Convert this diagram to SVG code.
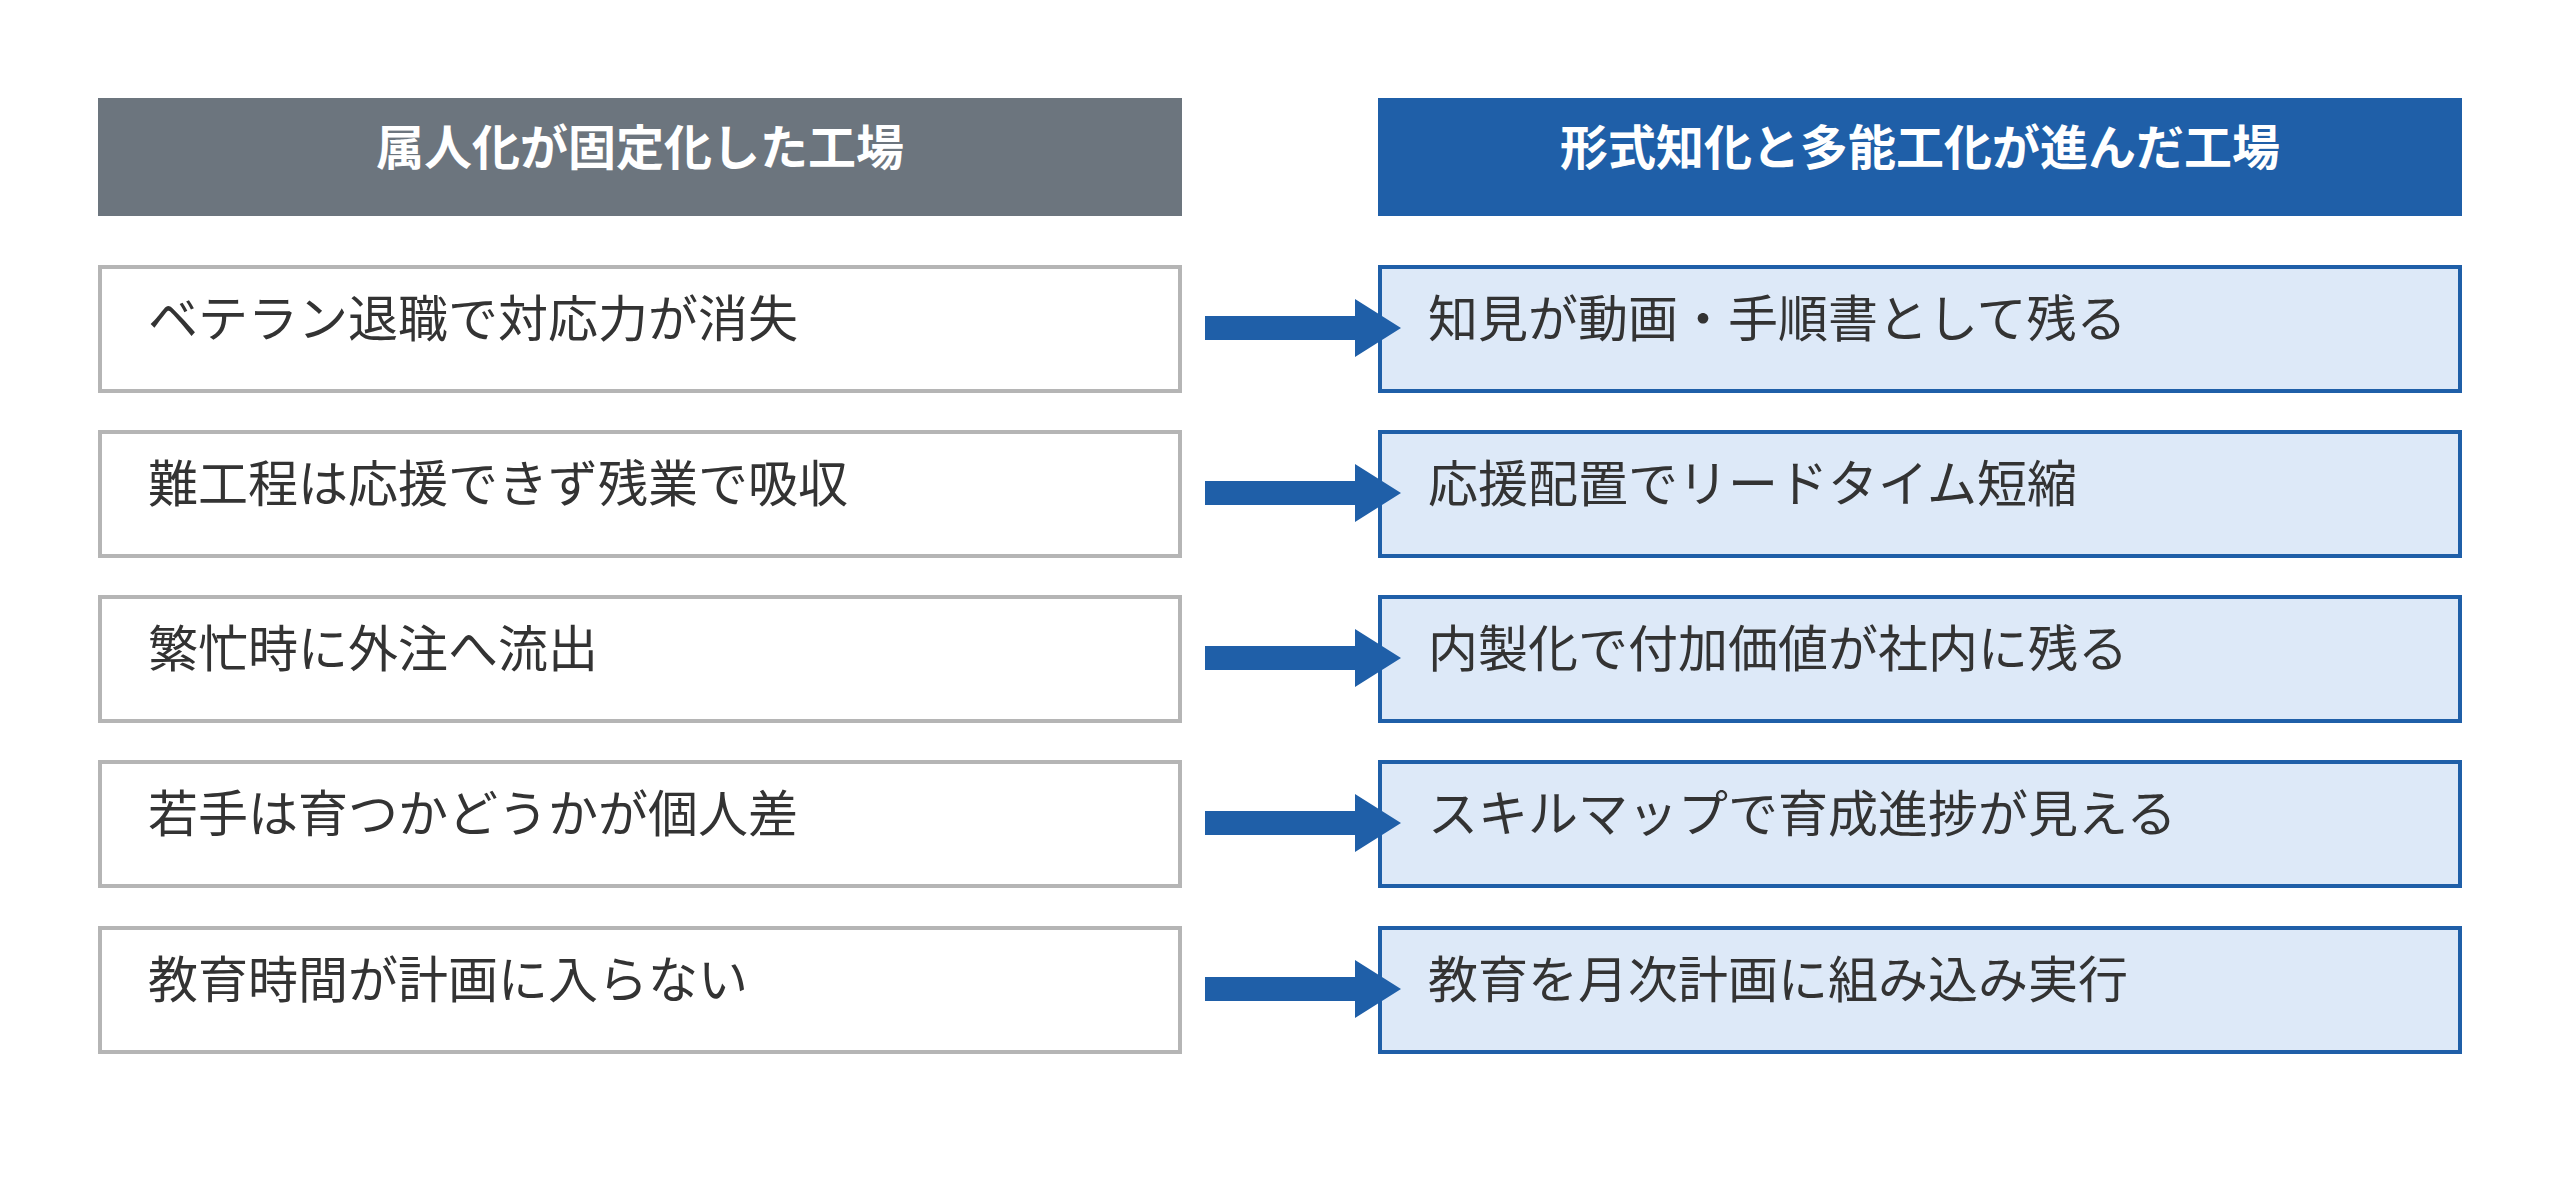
<svg xmlns="http://www.w3.org/2000/svg" width="2560" height="1191" viewBox="0 0 2560 1191">
<style>
text{font-family:"Noto Sans CJK JP","Noto Sans",sans-serif}
.h{font-size:48px;font-weight:bold;fill:#fff;text-anchor:middle}
.t{font-size:50px;fill:#333}
.l{fill:#fff;stroke:#b5b5b5;stroke-width:4}
.r{fill:#dde9f8;stroke:#1f5fa8;stroke-width:4}
.a{fill:#1f5fa8}
</style>
<rect width="2560" height="1191" fill="#fff"/>
<g id="header-left"><rect x="98" y="98" width="1084" height="118" fill="#6c757e"/><text class="h" x="640" y="165">属人化が固定化した工場</text></g>
<g id="header-right"><rect x="1378" y="98" width="1084" height="118" fill="#1f5fa8"/><text class="h" x="1920" y="165">形式知化と多能工化が進んだ工場</text></g>
<g id="left1"><rect class="l" x="100" y="267" width="1080" height="124"/><text class="t" x="148" y="337">ベテラン退職で対応力が消失</text></g>
<g id="left2"><rect class="l" x="100" y="432" width="1080" height="124"/><text class="t" x="148" y="502">難工程は応援できず残業で吸収</text></g>
<g id="left3"><rect class="l" x="100" y="597" width="1080" height="124"/><text class="t" x="148" y="667">繁忙時に外注へ流出</text></g>
<g id="left4"><rect class="l" x="100" y="762" width="1080" height="124"/><text class="t" x="148" y="832">若手は育つかどうかが個人差</text></g>
<g id="left5"><rect class="l" x="100" y="928" width="1080" height="124"/><text class="t" x="148" y="998">教育時間が計画に入らない</text></g>
<g id="right1"><rect class="r" x="1380" y="267" width="1080" height="124"/><text class="t" x="1428" y="337">知見が動画・手順書として残る</text></g>
<g id="right2"><rect class="r" x="1380" y="432" width="1080" height="124"/><text class="t" x="1428" y="502">応援配置でリードタイム短縮</text></g>
<g id="right3"><rect class="r" x="1380" y="597" width="1080" height="124"/><text class="t" x="1428" y="667">内製化で付加価値が社内に残る</text></g>
<g id="right4"><rect class="r" x="1380" y="762" width="1080" height="124"/><text class="t" x="1428" y="832">スキルマップで育成進捗が見える</text></g>
<g id="right5"><rect class="r" x="1380" y="928" width="1080" height="124"/><text class="t" x="1428" y="998">教育を月次計画に組み込み実行</text></g>
<g id="connectors">
<path class="a" d="M1205 316h150v-17l46 29-46 29v-17h-150z"/>
<path class="a" d="M1205 481h150v-17l46 29-46 29v-17h-150z"/>
<path class="a" d="M1205 646h150v-17l46 29-46 29v-17h-150z"/>
<path class="a" d="M1205 811h150v-17l46 29-46 29v-17h-150z"/>
<path class="a" d="M1205 977h150v-17l46 29-46 29v-17h-150z"/>
</g>
</svg>
